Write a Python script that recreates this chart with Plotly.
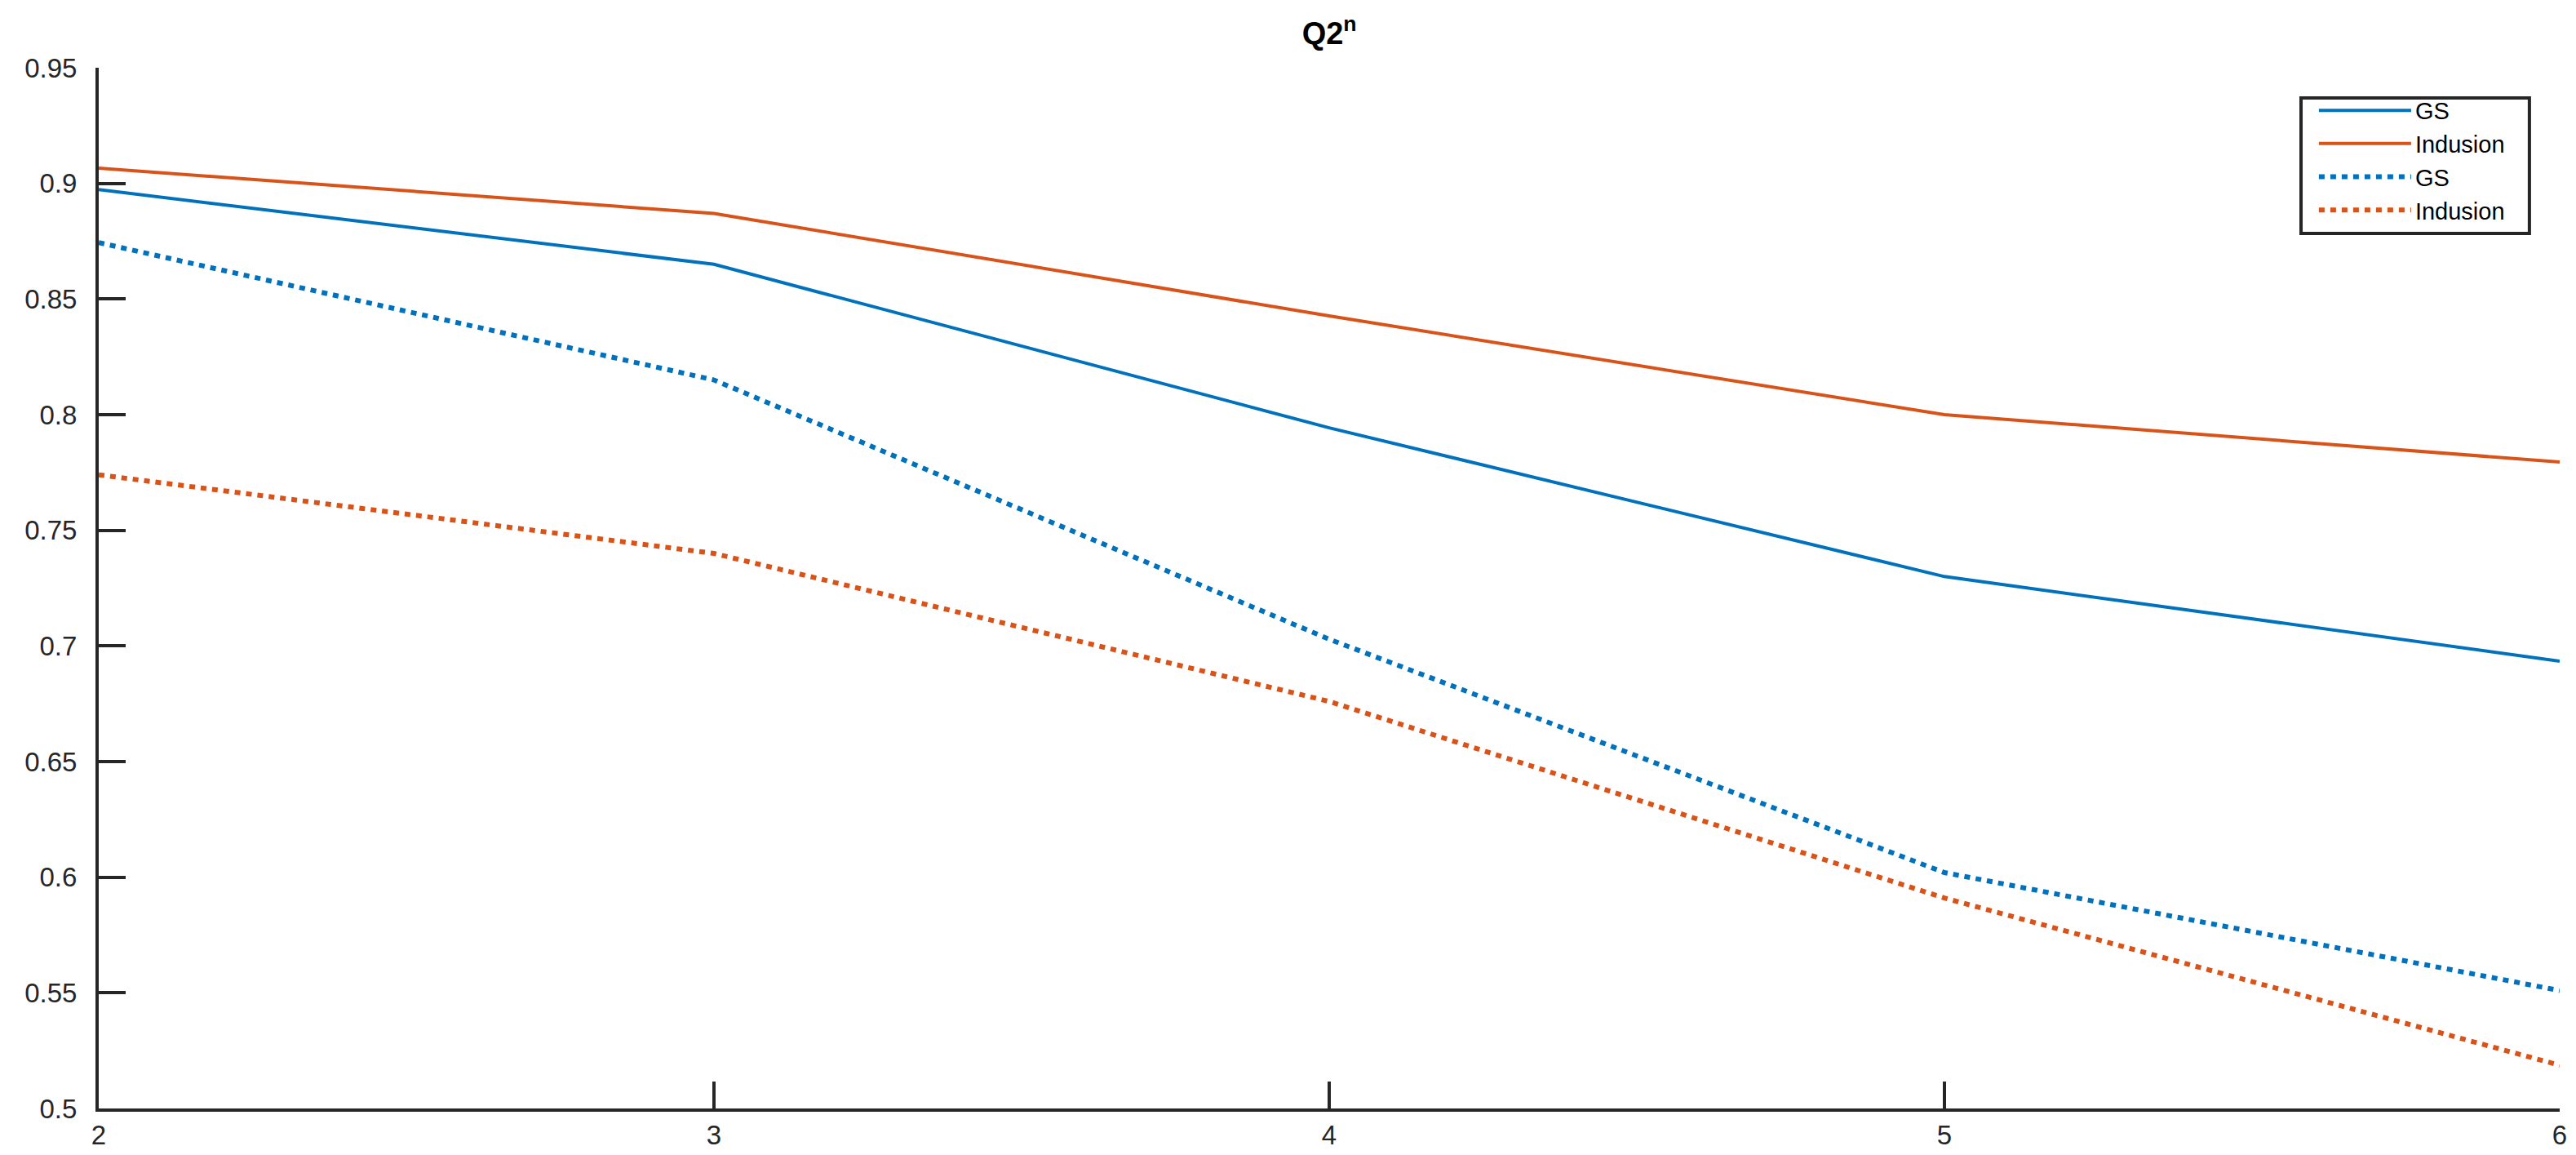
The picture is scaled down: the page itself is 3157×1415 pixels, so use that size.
import plotly.graph_objects as go

# values
n = [2, 3, 4, 5, 6]
gs_solid = [0.8973, 0.865, 0.7943, 0.730, 0.6934]
indusion_solid = [0.9066, 0.887, 0.8427, 0.800, 0.7795]
gs_dotted = [0.8744, 0.815, 0.7029, 0.602, 0.551]
indusion_dotted = [0.774, 0.740, 0.676, 0.591, 0.5187]

y_ticks = [0.5, 0.55, 0.6, 0.65, 0.7, 0.75, 0.8, 0.85, 0.9, 0.95]
y_labels = ["0.5", "0.55", "0.6", "0.65", "0.7", "0.75", "0.8", "0.85", "0.9", "0.95"]
x_ticks = [2, 3, 4, 5, 6]
x_labels = ["2", "3", "4", "5", "6"]

blue = "#0072BD"
orange = "#D95319"
axis_col = "#262626"
font = "Liberation Sans, Arial, Helvetica, sans-serif"

fig = go.Figure()
fig.add_trace(go.Scatter(x=n, y=gs_solid, mode="lines", name="GS",
                         line=dict(color=blue, width=4)))
fig.add_trace(go.Scatter(x=n, y=indusion_solid, mode="lines", name="Indusion",
                         line=dict(color=orange, width=4)))
fig.add_trace(go.Scatter(x=n, y=gs_dotted, mode="lines", name="GS",
                         line=dict(color=blue, width=6, dash="7px,7px")))
fig.add_trace(go.Scatter(x=n, y=indusion_dotted, mode="lines", name="Indusion",
                         line=dict(color=orange, width=6, dash="7px,7px")))

fig.update_layout(
    width=3157, height=1415,
    margin=dict(l=113, r=28, t=75, b=65),
    paper_bgcolor="white", plot_bgcolor="white",
    font=dict(family=font, size=33, color=axis_col),
    title=dict(text="<b>Q2<sup>n</sup></b>", x=0.5135, xanchor="center",
               y=0.977, yanchor="middle", font=dict(size=38, color="black")),
    legend=dict(x=0.9005, xanchor="left", y=0.979, yanchor="top",
                bgcolor="rgba(0,0,0,0)", borderwidth=0,
                font=dict(size=29, color="black"), itemwidth=113,
                tracegroupgap=0),
)

# legend box drawn separately so it has the same padding as the original
fig.add_shape(type="rect", xref="paper", yref="paper",
              x0=0.8949, x1=0.9877, y0=0.8408, y1=0.971,
              line=dict(color=axis_col, width=4), fillcolor="white", layer="below")

fig.update_xaxes(range=[2, 6], tickvals=x_ticks, ticktext=x_labels,
                 showgrid=False, zeroline=False, showline=True,
                 linecolor=axis_col, linewidth=4, ticks="inside", ticklen=33,
                 tickwidth=4, tickcolor=axis_col)
fig.update_yaxes(range=[0.5, 0.95], tickvals=y_ticks, ticktext=y_labels,
                 showgrid=False, zeroline=False, showline=True,
                 linecolor=axis_col, linewidth=4, ticks="inside", ticklen=33,
                 tickwidth=4, tickcolor=axis_col, ticklabelstandoff=16)

fig.write_html("out.html")
